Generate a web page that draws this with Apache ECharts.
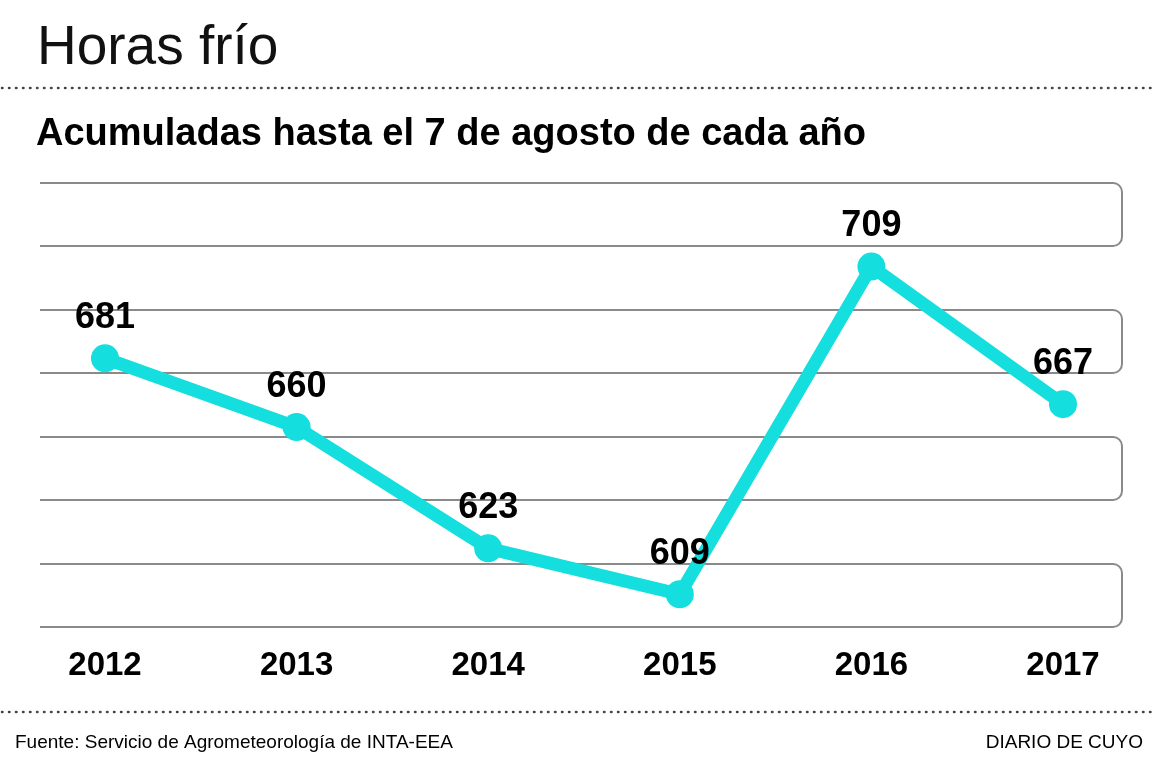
<!DOCTYPE html>
<html>
<head>
<meta charset="utf-8">
<title>Horas frío</title>
<script src="https://cdn.jsdelivr.net/npm/echarts@6/dist/echarts.min.js"></script>
<style>
  html, body { margin: 0; padding: 0; background: #fff; }
  #chart { width: 1157px; height: 768px; }
</style>
</head>
<body>
<div id="chart"></div>
<script>
// datos
var years = ['2012', '2013', '2014', '2015', '2016', '2017'];
var horasFrio = [681, 660, 623, 609, 709, 667];

var titulo = 'Horas frío';
var subtitulo = 'Acumuladas hasta el 7 de agosto de cada año';
var fuente = 'Fuente: Servicio de Agrometeorología de INTA-EEA';
var medio = 'DIARIO DE CUYO';

var font = '"Liberation Sans", Arial, sans-serif';
var cyan = '#14dede';

// geometria del area de grafico
var gridTop = 183, gridBottom = 627;
var bandLeft = 40, bandRight = 1122;

var graphics = [];
// bandas de fondo (4 bandas, 7 divisiones)
var step = (gridBottom - gridTop) / 7;
for (var i = 0; i < 4; i++) {
    var t = Math.round(gridTop + step * 2 * i);
    var b = Math.round(gridTop + step * (2 * i + 1));
    graphics.push({
        type: 'rect',
        z: -10,
        shape: { x: bandLeft - 20, y: t, width: bandRight - bandLeft + 20, height: b - t, r: 9 },
        style: { fill: '#fff', stroke: '#8a8a8a', lineWidth: 2 }
    });
}
// tapa el borde izquierdo de las bandas (quedan abiertas)
graphics.push({
    type: 'rect',
    z: -9,
    shape: { x: 0, y: gridTop - 10, width: bandLeft, height: gridBottom - gridTop + 20 },
    style: { fill: '#fff' }
});
// lineas punteadas
[88, 712].forEach(function (y) {
    graphics.push({
        type: 'line',
        shape: { x1: 2, y1: y, x2: 1157, y2: y },
        style: { stroke: '#444', lineWidth: 2.5, lineDash: [0.5, 6.5], lineCap: 'round' }
    });
});
graphics.push({
    type: 'text', left: 36, top: 116,
    style: { text: subtitulo, font: 'bold 38px ' + font, fill: '#000' }
});
graphics.push({
    type: 'text', left: 15, top: 733,
    style: { text: fuente, font: '19px ' + font, fill: '#000' }
});
graphics.push({
    type: 'text', right: 14, top: 733,
    style: { text: medio, font: '19px ' + font, fill: '#000' }
});

var chart = echarts.init(document.getElementById('chart'));
chart.setOption({
    animation: false,
    backgroundColor: '#fff',
    title: {
        text: titulo,
        left: 32,
        top: 16,
        textStyle: { fontFamily: font, fontSize: 55, fontWeight: 'normal', color: '#111' }
    },
    grid: { left: 105, right: 94, top: gridTop, bottom: 768 - gridBottom },
    xAxis: {
        type: 'category',
        data: years,
        boundaryGap: false,
        axisLine: { show: false },
        axisTick: { show: false },
        axisLabel: {
            margin: 22,
            fontFamily: font,
            fontSize: 33,
            fontWeight: 'bold',
            color: '#000'
        }
    },
    yAxis: {
        type: 'value',
        min: 599,
        max: 734.5,
        axisLabel: { show: false },
        axisLine: { show: false },
        axisTick: { show: false },
        splitLine: { show: false }
    },
    series: [{
        type: 'line',
        data: horasFrio,
        symbol: 'circle',
        symbolSize: 28,
        lineStyle: { color: cyan, width: 13 },
        itemStyle: { color: cyan },
        label: {
            show: true,
            position: 'top',
            distance: 8,
            fontFamily: font,
            fontSize: 36,
            fontWeight: 'bold',
            color: '#000'
        }
    }],
    graphic: graphics
});
</script>
</body>
</html>
